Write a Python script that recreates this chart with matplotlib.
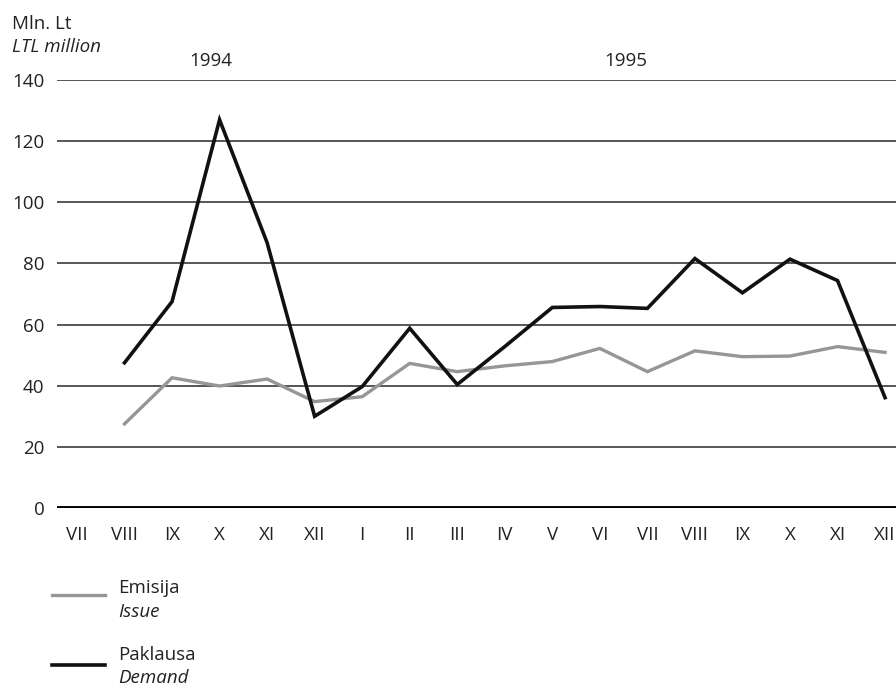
import matplotlib.pyplot as plt
from matplotlib.lines import Line2D

# month labels, Jul 1994 .. Dec 1995
months = ['VII', 'VIII', 'IX', 'X', 'XI', 'XII', 'I', 'II', 'III', 'IV', 'V', 'VI',
          'VII', 'VIII', 'IX', 'X', 'XI', 'XII']

# series start in VIII 1994 (index 1)
issue = [27.5, 42.6, 39.9, 42.2, 34.8, 36.4, 47.3, 44.6, 46.5, 47.9, 52.2,
         44.6, 51.4, 49.5, 49.7, 52.8, 50.9]
demand = [47.5, 67.5, 127.0, 86.8, 30.0, 39.7, 58.8, 40.4, 52.8, 65.6, 65.9,
          65.3, 81.6, 70.4, 81.4, 74.4, 36.1]

plt.rcParams['font.family'] = ['Open Sans', 'DejaVu Sans']
FS = 13.5

fig = plt.figure(figsize=(8.96, 6.9), dpi=100)
ax = fig.add_axes([0.0636, 0.2638, 0.9364, 0.6202])

xs = list(range(1, len(months)))
ax.plot(xs, issue, color='#969696', lw=2.4, solid_joinstyle='miter')
ax.plot(xs, demand, color='#111111', lw=2.6, solid_joinstyle='miter')

ax.set_ylim(0, 140)
ax.set_xlim(-0.42, 17.23)
ax.set_yticks(range(0, 141, 20))
for v in range(20, 141, 20):
    ax.axhline(v, color='#3a3a3a', lw=1.2, zorder=0)
ax.axhline(0, color='black', lw=2.8, zorder=0)

ax.set_xticks(range(len(months)))
ax.set_xticklabels(months, fontsize=FS, color='#222222')
ax.tick_params(axis='y', labelsize=FS, colors='#222222', length=0, pad=9)
ax.tick_params(axis='x', length=0, pad=13)
for s in ax.spines.values():
    s.set_visible(False)

fig.text(0.013, 0.965, 'Mln. Lt', fontsize=FS, color='#222222', va='center')
fig.text(0.013, 0.932, 'LTL million', fontsize=FS, style='italic', color='#222222', va='center')
fig.text(0.235, 0.912, '1994', fontsize=FS, color='#222222', ha='center', va='center')
fig.text(0.698, 0.912, '1995', fontsize=FS, color='#222222', ha='center', va='center')

# legend drawn manually below the plot
fig.add_artist(Line2D([0.058, 0.117], [0.137, 0.137], color='#969696', lw=2.4))
fig.add_artist(Line2D([0.058, 0.117], [0.036, 0.036], color='#111111', lw=2.6))
fig.text(0.132, 0.148, 'Emisija', fontsize=FS, color='#222222', va='center')
fig.text(0.132, 0.113, 'Issue', fontsize=FS, style='italic', color='#222222', va='center')
fig.text(0.132, 0.051, 'Paklausa', fontsize=FS, color='#222222', va='center')
fig.text(0.132, 0.017, 'Demand', fontsize=FS, style='italic', color='#222222', va='center')

fig.savefig('out.png', dpi=100)
